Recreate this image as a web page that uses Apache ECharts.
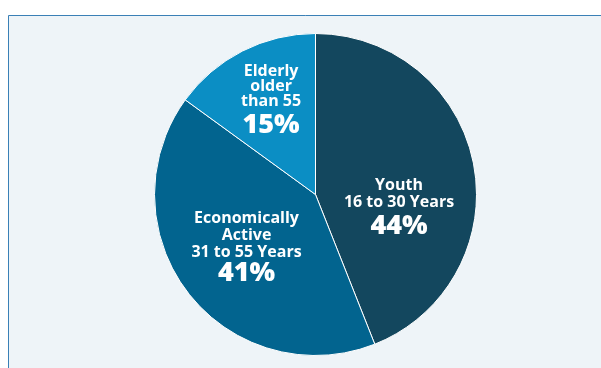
<!DOCTYPE html>
<html>
<head>
<meta charset="utf-8">
<script src="https://cdn.jsdelivr.net/npm/echarts@6/dist/echarts.min.js"></script>
<style>
  html, body { margin: 0; padding: 0; background: #ffffff; }
  #chart { width: 601px; height: 368px; }
</style>
</head>
<body>
<div id="chart"></div>
<script>
// Population split by age group (percent)
const groupNames = ['Youth', 'Economically Active', 'Elderly'];
const groupLabels = [
  ['Youth', '16 to 30 Years'],
  ['Economically', 'Active', '31 to 55 Years'],
  ['Elderly', 'older', 'than 55']
];
const groupShares = [44, 41, 15];
const groupColors = ['#13475e', '#02648f', '#0b8ec4'];
const labelOffsets = [[1.5, 30.5], [-3, 2], [-6.5, -17]];

const FONT = 'Open Sans';
const WHITE = '#ffffff';

function small(lh) {
  return { fontFamily: FONT, fontWeight: 'bold', fontSize: 16, lineHeight: lh, color: WHITE };
}
function pct(lh) {
  return { fontFamily: FONT, fontWeight: 800, fontSize: 27, lineHeight: lh, color: WHITE };
}

// Per-group line styles: each line gets its own leading
const lineStyles = [
  ['y1', 'y1'],
  ['e1', 'e1', 'e2'],
  ['o1', 'o1', 'o1']
];
const pctStyles = ['yp', 'ep', 'op'];

const chart = echarts.init(document.getElementById('chart'), null, { renderer: 'canvas' });

const seriesData = groupNames.map((name, i) => ({
  name: name,
  value: groupShares[i],
  itemStyle: { color: groupColors[i] },
  label: { offset: labelOffsets[i] }
}));

chart.setOption({
  animation: false,
  backgroundColor: '#ffffff',
  graphic: [{
    type: 'rect',
    shape: { x: 8.5, y: 15.5, width: 640, height: 400 },
    style: { fill: '#eef4f8', stroke: '#3a80b6', lineWidth: 1 },
    silent: true,
    z: -10
  }],
  series: [{
    type: 'pie',
    center: [315.5, 194.5],
    radius: 161,
    startAngle: 90,
    clockwise: true,
    data: seriesData,
    emphasis: { disabled: true },
    itemStyle: { borderColor: '#ffffff', borderWidth: 1 },
    labelLine: { show: false },
    label: {
      show: true,
      position: 'inside',
      color: WHITE,
      align: 'center',
      formatter: function (p) {
        const i = p.dataIndex;
        const parts = groupLabels[i].map(function (t, k) {
          return '{' + lineStyles[i][k] + '|' + t + '}';
        });
        parts.push('{' + pctStyles[i] + '|' + p.value + '%}');
        return parts.join('\n');
      },
      rich: {
        y1: small(17),
        yp: pct(31),
        e1: small(17),
        e2: small(18),
        ep: pct(24),
        o1: small(15),
        op: pct(34)
      }
    }
  }]
});
</script>
</body>
</html>
